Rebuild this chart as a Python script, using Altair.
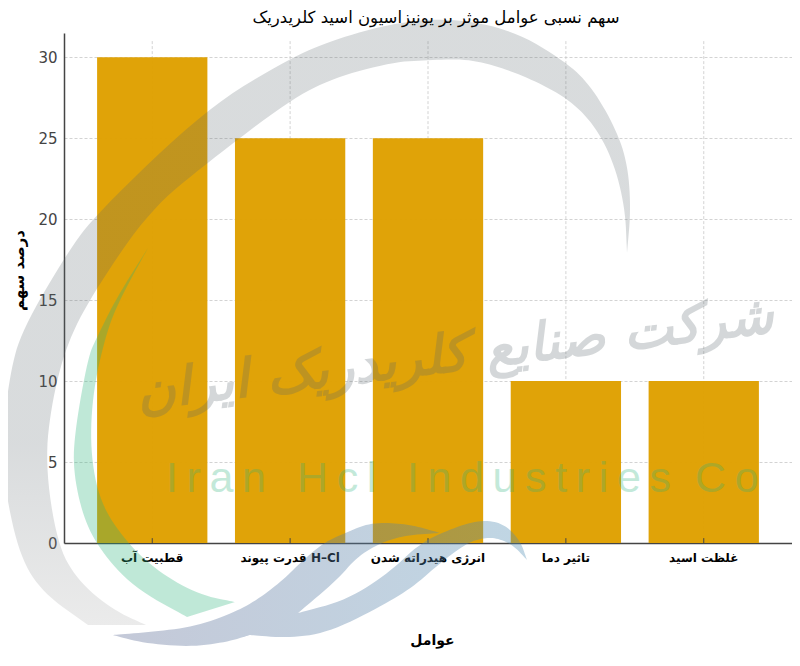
import altair as alt
import pandas as pd

categories = ["قطبیت آب", "قدرت پیوند H–Cl", "انرژی هیدراته شدن", "تاثیر دما", "غلظت اسید"]
values = [30, 25, 25, 10, 10]
y_ticks = [0, 5, 10, 15, 20, 25, 30]
title_text = "سهم نسبی عوامل موثر بر یونیزاسیون اسید کلریدریک"
x_title = "عوامل"
y_title = "درصد سهم"
watermark_fa = "شرکت صنایع کلریدریک ایران"
watermark_words = ["I\u2009r\u2009a\u2009n", "H\u2009c\u2009l",
                   "I\u2009n\u2009d\u2009u\u2009s\u2009t\u2009r\u2009i\u2009e\u2009s", "C\u2009o"]
watermark_word_left = [102, 233, 343, 631]

# watermark logo outlines, as open edges
gray_edges = [
    [(88,625),(43,593),(20,557),(5,490),(2,440),(10,373),(22,330),(67,253),(97,213),(207,108),(290,58),(333,40),(393,23),(450,18),(513,30),(566,62),(590,85),(613,123),(627,160),(631,207),(627,253)],
    [(627,253),(625,207),(613,160),(593,123),(567,98),(533,80),(500,67),(467,59),(430,60),(393,62),(333,78),(290,100),(207,163),(150,210),(97,287),(68,340),(52,400),(45,463),(57,543),(77,580),(113,610),(146,625)],
    [(146,625),(88,625)],
]
mint_edges = [
    [(148,248),(117,297),(97,337),(88,357),(75,430),(73,470),(83,517),(100,550),(133,587),(187,617)],
    [(187,617),(235,602)],
    [(235,602),(200,595),(160,573),(127,543),(100,503),(90,450),(93,390),(107,330),(122,295),(148,248)],
]
blue_edges = [
    [(113,635),(150,632),(193,627),(233,613),(257,600),(283,580),(300,563),(323,543),(347,532),(370,523),(397,523),(420,527),(440,533)],
    [(440,533),(407,535),(380,543),(357,557),(337,580),(298,613)],
    [(298,613),(347,600),(390,572),(420,543),(453,528),(480,520),(503,523),(520,540),(527,560)],
    [(527,560),(513,545),(497,538),(483,538),(467,543),(440,563),(413,587),(380,607),(327,633),(287,638),(250,635)],
    [(250,635),(227,642),(190,647),(143,643),(113,635)],
]
ORIGIN = (64, 33)
PLOT_W, PLOT_H = 728, 510


def smooth(edge, rounds=3):
    pts = list(edge)
    for _ in range(rounds):
        if len(pts) < 3:
            break
        out = [pts[0]]
        for a, b in zip(pts, pts[1:]):
            out.append((0.75*a[0]+0.25*b[0], 0.75*a[1]+0.25*b[1]))
            out.append((0.25*a[0]+0.75*b[0], 0.25*a[1]+0.75*b[1]))
        out.append(pts[-1])
        pts = out
    return pts


def polygon(edges):
    ring = []
    for e in edges:
        ring += smooth(e)
    ring = [[x-ORIGIN[0], y-ORIGIN[1]] for x, y in ring]
    ring.append(ring[0])
    return alt.Data(values=[{"type": "Feature", "properties": {},
                             "geometry": {"type": "Polygon", "coordinates": [ring]}}])


df = pd.DataFrame({"factor": categories, "value": values})
FONT = "DejaVu Sans"
GRID = "#c8c8c8"

x = alt.X("factor:N", sort=categories, title=x_title,
          scale=alt.Scale(paddingInner=0.2, paddingOuter=0.24),
          axis=alt.Axis(labelAngle=0, labelAlign="center", labelFontSize=12, labelColor="#000000", labelFont=FONT,
                        labelFontWeight="bold", tickSize=0, labelPadding=14, domainColor="#444444", domainWidth=1.5,
                        titleFont=FONT, titleFontSize=14, titleFontWeight="bold", titleColor="#000000",
                        titleY=97, titleX=368, titleBaseline="middle", grid=False))
y = alt.Y("value:Q", title=y_title,
          scale=alt.Scale(domain=[0, 31.5], nice=False),
          axis=alt.Axis(values=y_ticks, labelFontSize=15, labelColor="#444444", labelFont=FONT,
                        tickSize=0, labelPadding=7, domainColor="#444444", domainWidth=1.5,
                        grid=True, gridColor=GRID, gridDash=[3, 2], gridWidth=0.8,
                        titleFont=FONT, titleFontSize=15, titleFontWeight="bold", titleColor="#000000",
                        titleX=-38, titleY=237))

grid_v = alt.Chart(df).transform_calculate(top="31", bottom="0").mark_rule(
    color=GRID, strokeDash=[3, 2], strokeWidth=0.8
).encode(x=alt.X("factor:N", sort=categories), y=alt.Y("top:Q"), y2="bottom:Q")
bars = alt.Chart(df).mark_bar(color="#DFA000", opacity=0.97).encode(x=x, y=y)
ticks_x = alt.Chart(df).transform_calculate(top="0.3", bottom="0").mark_rule(
    color="#444444", strokeWidth=1
).encode(x=alt.X("factor:N", sort=categories), y=alt.Y("top:Q"), y2="bottom:Q")

gray = alt.Chart(polygon(gray_edges)).mark_geoshape(
    fill=alt.LinearGradient(gradient="linear", x1=0, x2=0, y1=0, y2=1,
                            stops=[alt.GradientStop(color="#59656b", offset=0),
                                   alt.GradientStop(color="#59656b", offset=0.7),
                                   alt.GradientStop(color="#a8a8a8", offset=1)]),
    fillOpacity=0.23, strokeWidth=0, clip=False).project(type="identity", scale=1, translate=[0, 0])
mint = alt.Chart(polygon(mint_edges)).mark_geoshape(
    fill="#2bb27a", fillOpacity=0.3, strokeWidth=0, clip=False).project(type="identity", scale=1, translate=[0, 0])
blue = alt.Chart(polygon(blue_edges)).mark_geoshape(
    fill=alt.LinearGradient(gradient="linear", x1=0, x2=1, y1=0, y2=0,
                            stops=[alt.GradientStop(color="#5c6993", offset=0),
                                   alt.GradientStop(color="#508eb4", offset=1)]),
    fillOpacity=0.36, strokeWidth=0, clip=False).project(type="identity", scale=1, translate=[0, 0])

fa_text = alt.Chart(pd.DataFrame({"t": [watermark_fa]})).mark_text(
    font=FONT, fontSize=53, fontWeight="bold", fontStyle="italic", color="#59656b", opacity=0.25,
    angle=353, align="center", baseline="middle"
).encode(text="t:N", x=alt.value(391), y=alt.value(322))
en_layers = [
    alt.Chart(pd.DataFrame({"t": [w]})).mark_text(
        font="Liberation Sans", fontSize=43, color="#2bb27a", opacity=0.28,
        align="left", baseline="alphabetic"
    ).encode(text="t:N", x=alt.value(px), y=alt.value(459))
    for w, px in zip(watermark_words, watermark_word_left)
]
title_mark = alt.Chart(pd.DataFrame({"t": [title_text]})).mark_text(
    font=FONT, fontSize=16.5, color="#000000", align="center", baseline="middle"
).encode(text="t:N", x=alt.value(372), y=alt.value(-15))

chart = alt.layer(grid_v, bars, ticks_x, gray, mint, blue, fa_text, *en_layers, title_mark).properties(
    width=PLOT_W, height=PLOT_H,
    padding={"left": 56, "top": 25, "right": 0, "bottom": 122},
    autosize=alt.AutoSizeParams(type="none"),
    background="#ffffff",
).configure_view(stroke=None)

chart.save("out.html", embed_options={"renderer": "svg", "actions": False})
